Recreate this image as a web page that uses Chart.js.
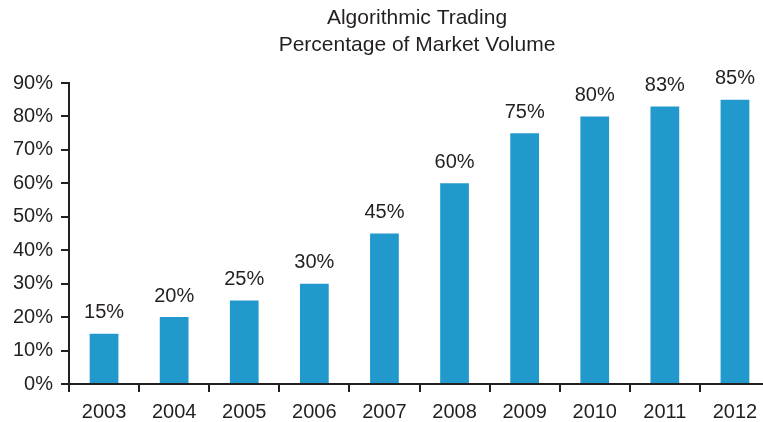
<!DOCTYPE html>
<html><head><meta charset="utf-8">
<script src="https://cdn.jsdelivr.net/npm/chart.js@4/dist/chart.umd.min.js"></script>
<style>html,body{margin:0;padding:0;background:#fff;overflow:hidden}#wrap{width:770px;height:422px;overflow:hidden}</style>
</head><body><div id="wrap"><canvas id="c" width="770" height="422"></canvas></div>
<script>
const years = ['2003','2004','2005','2006','2007','2008','2009','2010','2011','2012'];
const share = [15,20,25,30,45,60,75,80,83,85];
const yTicks = [0,10,20,30,40,50,60,70,80,90];
const titleLines = ['Algorithmic Trading','Percentage of Market Volume'];

const FONT = '"Liberation Sans", Arial, sans-serif';
const ink = '#231f20';

const labelsPlugin = {
  id: 'labels',
  afterDatasetsDraw(chart) {
    const ctx = chart.ctx;
    const meta = chart.getDatasetMeta(0);
    ctx.save();
    ctx.fillStyle = ink;
    ctx.font = '20px ' + FONT;
    ctx.textAlign = 'center';
    ctx.textBaseline = 'middle';
    meta.data.forEach((bar, i) => {
      ctx.fillText(share[i] + '%', bar.x, bar.y - 21);
    });
    ctx.font = '21px ' + FONT;
    const cx = 417;
    ctx.fillText(titleLines[0], cx, 18);
    ctx.fillText(titleLines[1], cx, 45);
    ctx.restore();
  }
};

new Chart(document.getElementById('c'), {
  type: 'bar',
  data: { labels: years, datasets: [{ data: share, backgroundColor: '#2199cd', barPercentage: 0.41, categoryPercentage: 1 }] },
  options: {
    responsive: false, animation: false,
    layout: { padding: { top: 83, right: 0, left: 0, bottom: 0 } },
    plugins: { legend: { display: false }, tooltip: { enabled: false } },
    scales: {
      x: {
        offset: true,
        grid: { display: true, drawOnChartArea: false, offset: true, tickLength: 8, color: ink, lineWidth: 2 },
        border: { color: ink, width: 2 },
        ticks: { color: ink, font: { size: 20, family: FONT }, padding: 8, maxRotation: 0 },
        afterFit(s) { s.height = 38; }
      },
      y: {
        min: 0, max: 90,
        afterBuildTicks(s) { s.ticks = yTicks.map(v => ({ value: v })); },
        grid: { display: true, drawOnChartArea: false, tickLength: 8, color: ink, lineWidth: 2 },
        border: { color: ink, width: 2 },
        ticks: { color: ink, font: { size: 20, family: FONT }, padding: 8, callback: v => v + '%' },
        afterFit(s) { s.width = 69; }
      }
    }
  },
  plugins: [labelsPlugin]
});
</script></body></html>
